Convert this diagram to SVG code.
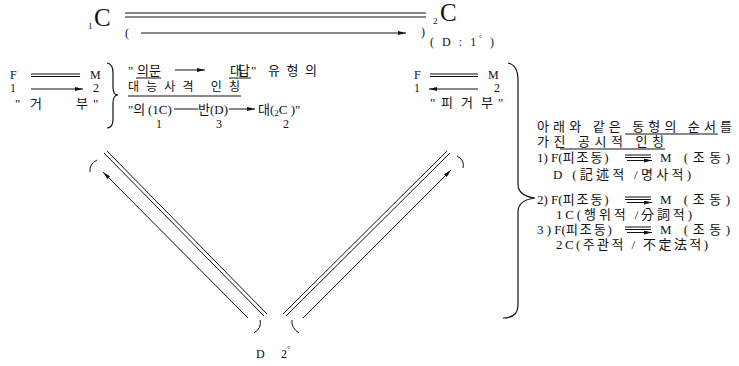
<svg xmlns="http://www.w3.org/2000/svg" width="739" height="366" viewBox="0 0 739 366">
<style>
text{font-family:"Liberation Serif","Noto Sans CJK KR",serif;fill:#111;font-size:12px}
.k{font-size:13px}
.big{font-size:25px}
.sub{font-size:9px}
.ln{stroke:#111;stroke-width:1;fill:none}
.ar{stroke:#111;stroke-width:1;fill:none;marker-end:url(#ah)}
.br{stroke:#111;stroke-width:1.2;fill:none}
</style>
<defs>
<marker id="ah" viewBox="0 0 8 4" refX="8" refY="2" markerWidth="8" markerHeight="4" markerUnits="userSpaceOnUse" orient="auto">
<path d="M0,0 L8,2 L0,4 z" fill="#111"/>
</marker>
</defs>
<rect width="739" height="366" fill="#fff"/>

<g id="node-c1">
<text x="88" y="29" class="sub">1</text>
<text x="94" y="26" class="big">C</text>
</g>
<g id="node-c2">
<text x="433" y="24" class="sub">2</text>
<text x="440" y="21" class="big">C</text>
<text x="430" y="46" font-size="14" textLength="64">( D : 1<tspan dy="-5" font-size="8">°</tspan><tspan dy="5"> )</tspan></text>
</g>
<g id="node-d2">
<text x="256" y="358" font-size="14">D</text>
<text x="281" y="358" font-size="14">2<tspan dy="-6" font-size="9">°</tspan></text>
</g>

<g id="node-left">
<text x="10" y="79">F</text>
<text x="90" y="79">M</text>
<path class="ln" d="M31,74H80M31,76.5H80"/>
<text x="10" y="92">1</text>
<path class="ar" d="M31,89H83"/>
<text x="93" y="92">2</text>
<text x="15" y="108" class="k">"<tspan x="30">거</tspan><tspan x="76">부</tspan><tspan x="93">"</tspan></text>
<path class="br" d="M107,63 Q113,64 113,73 V87 Q113,95 118,95 Q113,95 113,103 V119 Q113,128 107,128"/>
</g>

<g id="note-left">
<text x="128" y="75" class="k">"<tspan x="137" textLength="24">의문</tspan><tspan x="230" textLength="20">대답</tspan><tspan x="251">"</tspan><tspan x="268" textLength="49">유형의</tspan></text>
<path class="ln" d="M136,78H161M229,78H251"/>
<path class="ar" d="M175,70H205"/>
<text x="128" y="91" font-size="14" textLength="112">대능사격 인칭</text>
<path class="ln" d="M128,96H241"/>
<text x="128" y="114" class="k">"의<tspan x="148">(1C)</tspan><tspan x="198">반(D)</tspan><tspan x="258">대(</tspan><tspan font-size="9" dy="2">2</tspan><tspan dy="-2">C )"</tspan></text>
<path class="ar" d="M174,109H198M229,109H255"/>
<text x="156" y="128">1</text>
<text x="216" y="128">3</text>
<text x="283" y="128">2</text>
</g>

<g id="node-right">
<text x="414" y="79">F</text>
<path class="ln" d="M430,74H478M430,76.5H478"/>
<text x="488" y="79">M</text>
<text x="414" y="92">1</text>
<path class="ar" d="M478,89H429"/>
<text x="494" y="92">2</text>
<text x="430" y="107" class="k">"<tspan x="441">피</tspan><tspan x="461">거</tspan><tspan x="481">부</tspan><tspan x="498">"</tspan></text>
<path class="br" d="M508,63 Q518,65 518,80 V184 Q518,196 535,198 Q518,200 518,212 V305 Q518,318 503,318"/>
</g>

<g id="note-right">
<text x="537" y="131" class="k" textLength="195">아래와 같은 동형의 순서를</text>
<path class="ln" d="M625,134H718"/>
<text x="537" y="146" class="k" textLength="127">가진 공시적 인칭</text>
<path class="ln" d="M560,149H665"/>
<text x="537" y="162" class="k">1) F(<tspan textLength="46">피조동)</tspan></text>
<path class="ln" d="M625,155H651M625,157.5H651"/>
<path class="ar" d="M627,160.5H652"/>
<text x="660" y="162" class="k" textLength="70">M (조동)</text>
<text x="553" y="179" class="k" textLength="138">D (記述적 /명사적)</text>
<text x="537" y="204" class="k">2) F(<tspan textLength="46">피조동)</tspan></text>
<path class="ln" d="M625,197H651M625,199.5H651"/>
<path class="ar" d="M627,202.5H652"/>
<text x="660" y="204" class="k" textLength="70">M (조동)</text>
<text x="556" y="219" class="k" textLength="136">1C(행위적 /分詞적)</text>
<text x="537" y="234" class="k">3 ) F(<tspan textLength="46">피조동)</tspan></text>
<path class="ln" d="M625,227H651M625,229.5H651"/>
<path class="ar" d="M627,232.5H652"/>
<text x="660" y="234" class="k" textLength="70">M (조동)</text>
<text x="556" y="249" class="k" textLength="152">2C(주관적 / 不定法적)</text>
</g>

<g id="connectors">
<path class="ln" d="M125,13H426M125,17H426"/>
<text x="125" y="37" font-size="13">(</text>
<path class="ar" d="M141,33H406"/>
<text x="421" y="36" font-size="13">)</text>
<path class="ln" d="M104,153L264,316M107,151L267,314"/>
<path class="ar" d="M248,318L103,172"/>
<path class="ln" d="M97,160Q89,164 90,172"/>
<path class="ln" d="M254,333Q262,328 260,320"/>
<path class="ln" d="M283,314L447,151M286,316L450,153"/>
<path class="ar" d="M303,318L451,170"/>
<path class="ln" d="M299,333Q291,328 292,320"/>
<path class="ln" d="M457,156Q465,160 463,168"/>
</g>
</svg>
